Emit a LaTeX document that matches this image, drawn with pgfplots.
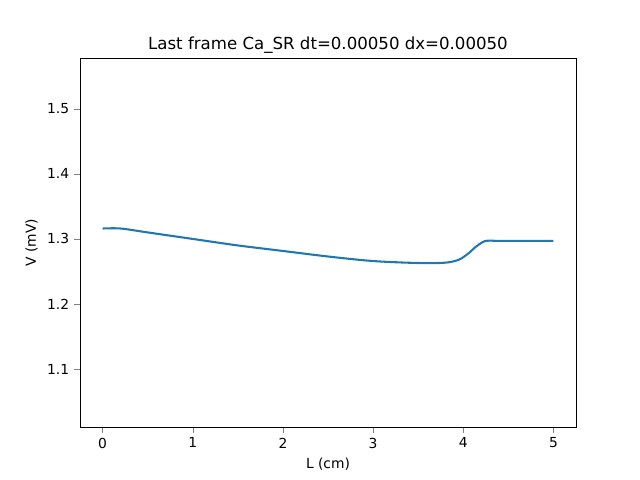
\documentclass[border=0pt]{standalone}
\usepackage{pgfplots}
\pgfplotsset{compat=1.18}
\usepackage{fontspec}
\setmainfont{DejaVu Sans}
\definecolor{mblue}{HTML}{1F77B4}
\begin{document}
\begin{tikzpicture}
\path[use as bounding box] (-0.8in,-0.53in) rectangle (5.6in,4.27in);
\begin{axis}[at={(0,0)},anchor=south west,scale only axis,width=4.96in,height=3.69in,
xmin=-0.25,xmax=5.25,ymin=1.011,ymax=1.578,
xtick={0,1,2,3,4,5},ytick={1.1,1.2,1.3,1.4,1.5},
yticklabel style={/pgf/number format/.cd,fixed,precision=1,fixed zerofill},
/pgf/number format/assume math mode=true,
tick align=outside,tick pos=left,
ticklabel style={font=\fontsize{10}{12}\selectfont},
label style={font=\fontsize{10}{12}\selectfont},
xlabel={L (cm)},ylabel={V (mV)},
title={Last frame Ca\_SR dt=0.00050 dx=0.00050},
title style={font=\fontsize{12}{14}\selectfont,yshift=-6pt},
]
\addplot[mblue,line width=1.5pt,smooth] coordinates {
(0,1.316)(0.2,1.316)(0.5,1.31)(1,1.300)(1.5,1.290)(2,1.2815)(2.5,1.273)(3,1.266)(3.5,1.263)(3.8,1.2635)(3.95,1.268)(4.05,1.277)(4.15,1.289)(4.25,1.297)(4.4,1.297)(5,1.297)};
\end{axis}
\end{tikzpicture}
\end{document}
